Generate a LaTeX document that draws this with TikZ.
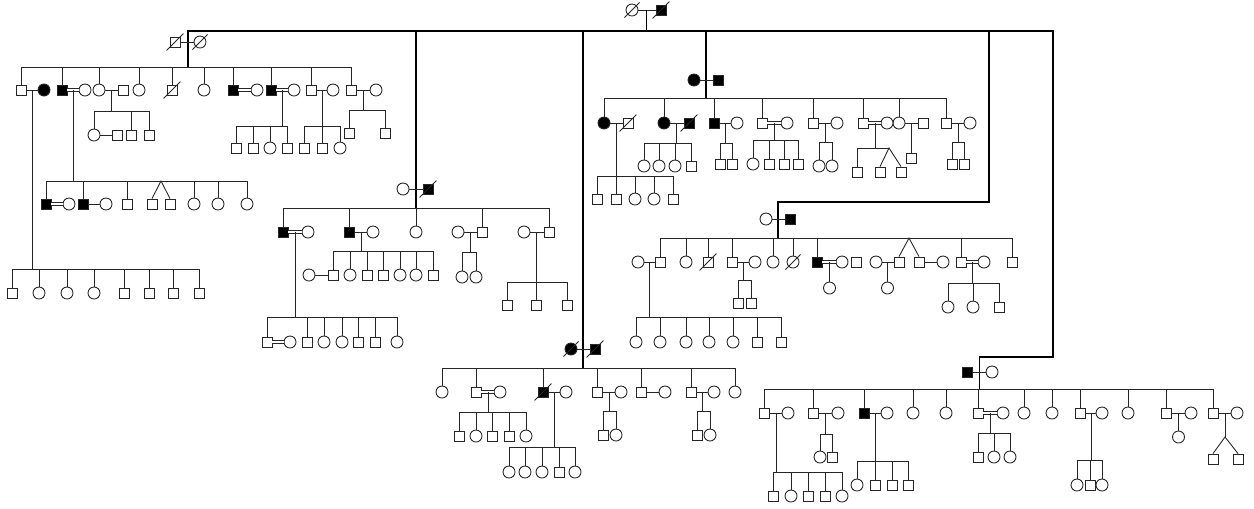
\documentclass[tikz,border=0pt]{standalone}
\usepackage{tikz}
\usetikzlibrary{calc}

\newcommand{\morto}[1]{\draw ([shift={(-3,3)}]#1.south west) -- ([shift={(3,-3)}]#1.north east);}

\begin{document}
\begin{tikzpicture}[x=0.02cm, y=-0.02cm, line width=0.5pt, color=black!85,
    maschio/.style={draw, rectangle, minimum size=0.2cm, inner sep=0pt, fill=white},
    femmina/.style={draw, circle, minimum size=0.24cm, inner sep=0pt, fill=white},
    malato/.style={maschio, fill=black},
    malata/.style={femmina, fill=black},
    consang/.style={double, double distance=0.9pt},
    ramo/.style={line width=0.9pt, black}]

    \useasboundingbox (0,0) rectangle (1254,508);

    % Capostipiti
    \node[femmina] (T1) at (632,10) {};
    \node[malato] (T2) at (661,10) {};
    \draw (T1) -- (T2);
    \morto{T1} \morto{T2}

    % Linee principali
    \coordinate (tT) at ($(T1)!.5!(T2)$);
    \coordinate (sA) at (188,67);
    \coordinate (sB) at (416,208);
    \coordinate (sC) at (706,98);
    \coordinate (sD) at (778,238);
    \coordinate (sE) at (583,368);
    \coordinate (sF) at (979.5,389);
    \coordinate (kD) at (989,202);
    \coordinate (kF) at (1053,357);
    \draw[ramo] (tT) -- (tT |- 0,31);
    \draw[ramo] (sA) |- (kF |- 0,31) -- (kF) -| (sF);
    \draw[ramo] (sB) -- (sB |- 0,31);
    \draw[ramo] (sC) -- (sC |- 0,31);
    \draw[ramo] (sE) -- (sE |- 0,31);
    \draw[ramo] (sD) |- (kD) -- (kD |- 0,31);

    % Famiglia A
    \node[maschio] (A1) at (175,42) {};
    \node[femmina] (A2) at (200,42) {};
    \draw (A1) -- (A2);
    \morto{A1} \morto{A2}
    \foreach \x/\s [count=\i] in {21/maschio,62/malato,99/femmina,139/femmina,172/maschio,204/femmina,233/malato,271/malato,311/maschio,351/maschio}
      { \node[\s] (a\i) at (\x,90) {}; \draw (a\i) -- (a\i |- sA); }
    \foreach \x/\s/\n in {44/malata/1,85/femmina/2,123/maschio/3,257/femmina/7,294/femmina/8,333/femmina/9,376/femmina/10}
      \node[\s] (as\n) at (\x,90) {};
    \morto{a5}
    \draw (a1 |- sA) -- (a10 |- sA);
    \foreach \i in {1,3,9,10} \draw (a\i) -- (as\i);
    \foreach \i in {2,7,8} \draw[consang] (a\i) -- (as\i);

    % figli di a1
    \coordinate (sa1) at (32.5,269);
    \draw (sa1 |- a1) -- (sa1);
    \foreach \x/\s [count=\i] in {12/maschio,39/femmina,67/femmina,94/femmina,124/maschio,149/maschio,173/maschio,199/maschio}
      { \node[\s] (a1f\i) at (\x,293) {}; \draw (a1f\i) -- (a1f\i |- sa1); }
    \draw (a1f1 |- sa1) -- (a1f8 |- sa1);

    % figli di a2
    \coordinate (sa2) at (73.5,181);
    \draw (sa2 |- a2) -- (sa2);
    \foreach \x/\s [count=\i] in {46/malato,83/malato,127/maschio,152/maschio,170/maschio,194/femmina,218/femmina,247/femmina}
      \node[\s] (a2f\i) at (\x,204) {};
    \node[femmina] (a2s1) at (69,204) {};
    \node[femmina] (a2s2) at (106,204) {};
    \draw (a2f1 |- sa2) -- (a2f8 |- sa2);
    \foreach \i in {1,2,3,6,7,8} \draw (a2f\i) -- (a2f\i |- sa2);
    \coordinate (ga2) at (161,181);
    \draw (a2f4.north) -- (ga2) -- (a2f5.north);
    \draw[consang] (a2f1) -- (a2s1);
    \draw (a2f2) -- (a2s2);

    % figli di a3
    \coordinate (sa3) at (111,111);
    \draw (sa3 |- a3) -- (sa3);
    \foreach \x/\s [count=\i] in {94/femmina,131/maschio,149/maschio}
      { \node[\s] (a3f\i) at (\x,135) {}; \draw (a3f\i) -- (a3f\i |- sa3); }
    \draw (a3f1 |- sa3) -- (a3f3 |- sa3);
    \node[maschio] (a3s1) at (117,135) {};
    \draw (a3f1) -- (a3s1);

    % figli di a8, a9, a10
    \coordinate (sa8) at (282.5,126);
    \draw (sa8 |- a8) -- (sa8);
    \foreach \x/\s [count=\i] in {236/maschio,253/maschio,270/femmina,287/maschio}
      { \node[\s] (a8f\i) at (\x,148) {}; \draw (a8f\i) -- (a8f\i |- sa8); }
    \draw (a8f1 |- sa8) -- (a8f4 |- sa8);
    \coordinate (sa9) at (322,126);
    \draw (sa9 |- a9) -- (sa9);
    \foreach \x/\s [count=\i] in {304/maschio,322/maschio,340/femmina}
      { \node[\s] (a9f\i) at (\x,148) {}; \draw (a9f\i) -- (a9f\i |- sa9); }
    \draw (a9f1 |- sa9) -- (a9f3 |- sa9);
    \coordinate (sa10) at (363.5,110);
    \draw (sa10 |- a10) -- (sa10);
    \foreach \x/\s [count=\i] in {349/maschio,385/maschio}
      { \node[\s] (a10f\i) at (\x,133) {}; \draw (a10f\i) -- (a10f\i |- sa10); }
    \draw (a10f1 |- sa10) -- (a10f2 |- sa10);

    % Famiglia B
    \node[femmina] (B1) at (403,189) {};
    \node[malato] (B2) at (428,189) {};
    \draw (B1) -- (B2);
    \morto{B2}
    \foreach \x/\s [count=\i] in {283/malato,349/malato,416/femmina,482/maschio,549/maschio}
      { \node[\s] (b\i) at (\x,232) {}; \draw (b\i) -- (b\i |- sB); }
    \draw (b1 |- sB) -- (b5 |- sB);
    \node[femmina] (bs1) at (308,232) {};
    \node[femmina] (bs2) at (373,232) {};
    \node[femmina] (bs4) at (458,232) {};
    \node[femmina] (bs5) at (524,232) {};
    \draw[consang] (b1) -- (bs1);
    \draw (b2) -- (bs2) (bs4) -- (b4) (bs5) -- (b5);

    % figli di b1
    \coordinate (sb1) at (295.5,317);
    \draw (sb1 |- b1) -- (sb1);
    \foreach \x/\s [count=\i] in {267/maschio,307/maschio,324/femmina,342/femmina,358/maschio,375/maschio,397/femmina}
      { \node[\s] (b1f\i) at (\x,342) {}; \draw (b1f\i) -- (b1f\i |- sb1); }
    \draw (b1f1 |- sb1) -- (b1f7 |- sb1);
    \node[femmina] (b1s1) at (290,342) {};
    \draw[consang] (b1f1) -- (b1s1);

    % figli di b2
    \coordinate (sb2) at (361,251);
    \draw (sb2 |- b2) -- (sb2);
    \foreach \x/\s [count=\i] in {333/maschio,350/femmina,367/maschio,383/maschio,400/femmina,416/femmina,433/maschio}
      { \node[\s] (b2f\i) at (\x,275) {}; \draw (b2f\i) -- (b2f\i |- sb2); }
    \draw (b2f1 |- sb2) -- (b2f7 |- sb2);
    \node[femmina] (b2s1) at (309,275) {};
    \draw (b2s1) -- (b2f1);

    % figli di b4, b5
    \coordinate (sb4) at (470,252);
    \draw (sb4 |- b4) -- (sb4);
    \foreach \x/\s [count=\i] in {462/femmina,476/femmina}
      { \node[\s] (b4f\i) at (\x,277) {}; \draw (b4f\i) -- (b4f\i |- sb4); }
    \draw (b4f1 |- sb4) -- (b4f2 |- sb4);
    \coordinate (sb5) at (536.5,282);
    \draw (sb5 |- b5) -- (sb5);
    \foreach \x/\s [count=\i] in {507/maschio,536/maschio,567/maschio}
      { \node[\s] (b5f\i) at (\x,305) {}; \draw (b5f\i) -- (b5f\i |- sb5); }
    \draw (b5f1 |- sb5) -- (b5f3 |- sb5);

    % Famiglia C
    \node[malata] (C1) at (694,80) {};
    \node[malato] (C2) at (718,80) {};
    \draw (C1) -- (C2);
    \foreach \x/\s [count=\i] in {604/malata,664/malata,714/malato,762/maschio,813/maschio,863/maschio,899/femmina,946/maschio}
      { \node[\s] (c\i) at (\x,123) {}; \draw (c\i) -- (c\i |- sC); }
    \draw (c1 |- sC) -- (c8 |- sC);
    \foreach \x/\s/\n in {628/maschio/1,689/malato/2,737/femmina/3,787/femmina/4,837/femmina/5,887/femmina/6,923/maschio/7,970/femmina/8}
      \node[\s] (cs\n) at (\x,123) {};
    \morto{cs1} \morto{cs2}
    \foreach \i in {1,2,3,5,7,8} \draw (c\i) -- (cs\i);
    \foreach \i in {4,6} \draw[consang] (c\i) -- (cs\i);

    % figli di c1
    \coordinate (sc1) at (616,176);
    \draw (sc1 |- c1) -- (sc1);
    \foreach \x/\s [count=\i] in {597/maschio,616/maschio,635/femmina,654/femmina,673/maschio}
      { \node[\s] (c1f\i) at (\x,199) {}; \draw (c1f\i) -- (c1f\i |- sc1); }
    \draw (c1f1 |- sc1) -- (c1f5 |- sc1);

    % figli di c2, c3
    \coordinate (sc2) at (676.5,143);
    \draw (sc2 |- c2) -- (sc2);
    \foreach \x/\s [count=\i] in {644/femmina,659/femmina,675/femmina,691/maschio}
      { \node[\s] (c2f\i) at (\x,166) {}; \draw (c2f\i) -- (c2f\i |- sc2); }
    \draw (c2f1 |- sc2) -- (c2f4 |- sc2);
    \coordinate (sc3) at (725.5,143);
    \draw (sc3 |- c3) -- (sc3);
    \foreach \x/\s [count=\i] in {720/maschio,732/maschio}
      { \node[\s] (c3f\i) at (\x,164) {}; \draw (c3f\i) -- (c3f\i |- sc3); }
    \draw (c3f1 |- sc3) -- (c3f2 |- sc3);

    % figli di c4, c5
    \coordinate (sc4) at (774.5,140);
    \draw (sc4 |- c4) -- (sc4);
    \foreach \x/\s [count=\i] in {753/femmina,769/maschio,784/maschio,798/maschio}
      { \node[\s] (c4f\i) at (\x,164) {}; \draw (c4f\i) -- (c4f\i |- sc4); }
    \draw (c4f1 |- sc4) -- (c4f4 |- sc4);
    \coordinate (sc5) at (825,142);
    \draw (sc5 |- c5) -- (sc5);
    \foreach \x/\s [count=\i] in {819/femmina,832/femmina}
      { \node[\s] (c5f\i) at (\x,166) {}; \draw (c5f\i) -- (c5f\i |- sc5); }
    \draw (c5f1 |- sc5) -- (c5f2 |- sc5);

    % figli di c6, c7, c8
    \coordinate (sc6) at (875,148);
    \coordinate (gc6) at (889,148);
    \draw (sc6 |- c6) -- (sc6);
    \foreach \x/\s [count=\i] in {857/maschio,880/maschio,901/maschio}
      \node[\s] (c6f\i) at (\x,172) {};
    \draw (c6f1) -- (c6f1 |- sc6) -- (gc6);
    \draw (c6f2.north) -- (gc6) -- (c6f3.north);
    \node[maschio] (c7f1) at (911,158) {};
    \draw (c7f1) -- (c7f1 |- c7);
    \coordinate (sc8) at (958,142);
    \draw (sc8 |- c8) -- (sc8);
    \foreach \x/\s [count=\i] in {952/maschio,964/maschio}
      { \node[\s] (c8f\i) at (\x,164) {}; \draw (c8f\i) -- (c8f\i |- sc8); }
    \draw (c8f1 |- sc8) -- (c8f2 |- sc8);

    % Famiglia D
    \node[femmina] (D1) at (766,219) {};
    \node[malato] (D2) at (790,219) {};
    \draw (D1) -- (D2);
    \foreach \x/\s [count=\i] in {660/maschio,686/femmina,708/maschio,732/maschio,773/femmina,793/femmina,817/malato,899/maschio,919/maschio,961/maschio,1012/maschio}
      \node[\s] (d\i) at (\x,262) {};
    \foreach \i in {1,...,7,10,11} \draw (d\i) -- (d\i |- sD);
    \draw (d1 |- sD) -- (d11 |- sD);
    \coordinate (gd) at (909,238);
    \draw (d8.north) -- (gd) -- (d9.north);
    \morto{d3} \morto{d6}
    \foreach \x/\s/\n in {638/femmina/1,755/femmina/4,842/femmina/7,876/femmina/8,943/femmina/9,984/femmina/10}
      \node[\s] (ds\n) at (\x,262) {};
    \node[maschio] (dx) at (856,262) {};
    \foreach \i in {1,4,8,9} \draw (d\i) -- (ds\i);
    \foreach \i in {7,10} \draw[consang] (d\i) -- (ds\i);

    % figli di d1
    \coordinate (sd1) at (649,317);
    \draw (sd1 |- d1) -- (sd1);
    \foreach \x/\s [count=\i] in {636/femmina,660/femmina,686/femmina,709/femmina,733/femmina,757/maschio,781/maschio}
      { \node[\s] (d1f\i) at (\x,342) {}; \draw (d1f\i) -- (d1f\i |- sd1); }
    \draw (d1f1 |- sd1) -- (d1f7 |- sd1);

    % figli di d4, d7, d8, d10
    \coordinate (sd4) at (743.5,280);
    \draw (sd4 |- d4) -- (sd4);
    \foreach \x/\s [count=\i] in {738/maschio,751/maschio}
      { \node[\s] (d4f\i) at (\x,303) {}; \draw (d4f\i) -- (d4f\i |- sd4); }
    \draw (d4f1 |- sd4) -- (d4f2 |- sd4);
    \node[femmina] (d7f1) at (829.5,288) {};
    \draw (d7f1) -- (d7f1 |- d7);
    \node[femmina] (d8f1) at (887.5,288) {};
    \draw (d8f1) -- (d8f1 |- d8);
    \coordinate (sd10) at (972.5,283);
    \draw (sd10 |- d10) -- (sd10);
    \foreach \x/\s [count=\i] in {948/femmina,973/femmina,999/maschio}
      { \node[\s] (d10f\i) at (\x,307) {}; \draw (d10f\i) -- (d10f\i |- sd10); }
    \draw (d10f1 |- sd10) -- (d10f3 |- sd10);

    % Famiglia E
    \node[malata] (E1) at (571,349) {};
    \node[malato] (E2) at (595,349) {};
    \draw (E1) -- (E2);
    \morto{E1} \morto{E2}
    \foreach \x/\s [count=\i] in {442/femmina,476/maschio,543/malato,597/maschio,641/maschio,691/maschio,735/femmina}
      { \node[\s] (e\i) at (\x,392) {}; \draw (e\i) -- (e\i |- sE); }
    \draw (e1 |- sE) -- (e7 |- sE);
    \morto{e3}
    \foreach \x/\s/\n in {500/femmina/2,566/femmina/3,621/femmina/4,665/femmina/5,714/femmina/6}
      \node[\s] (es\n) at (\x,392) {};
    \draw[consang] (e2) -- (es2);
    \foreach \i in {3,4,5,6} \draw (e\i) -- (es\i);

    % figli di e2, e3
    \coordinate (se2) at (488,412);
    \draw (se2 |- e2) -- (se2);
    \foreach \x/\s [count=\i] in {459/maschio,476/femmina,492/maschio,509/maschio,526/femmina}
      { \node[\s] (e2f\i) at (\x,436) {}; \draw (e2f\i) -- (e2f\i |- se2); }
    \draw (e2f1 |- se2) -- (e2f5 |- se2);
    \coordinate (se3) at (554.5,447);
    \draw (se3 |- e3) -- (se3);
    \foreach \x/\s [count=\i] in {509/femmina,525/femmina,542/femmina,559/maschio,575/femmina}
      { \node[\s] (e3f\i) at (\x,472) {}; \draw (e3f\i) -- (e3f\i |- se3); }
    \draw (e3f1 |- se3) -- (e3f5 |- se3);

    % figli di e4, e6
    \coordinate (se4) at (609,411);
    \draw (se4 |- e4) -- (se4);
    \foreach \x/\s [count=\i] in {603/maschio,616/femmina}
      { \node[\s] (e4f\i) at (\x,435) {}; \draw (e4f\i) -- (e4f\i |- se4); }
    \draw (e4f1 |- se4) -- (e4f2 |- se4);
    \coordinate (se6) at (702.5,411);
    \draw (se6 |- e6) -- (se6);
    \foreach \x/\s [count=\i] in {697/maschio,710/femmina}
      { \node[\s] (e6f\i) at (\x,435) {}; \draw (e6f\i) -- (e6f\i |- se6); }
    \draw (e6f1 |- se6) -- (e6f2 |- se6);

    % Famiglia F
    \node[malato] (F1) at (967,372) {};
    \node[femmina] (F2) at (992,372) {};
    \draw (F1) -- (F2);
    \foreach \x/\s [count=\i] in {764/maschio,813/maschio,864/malato,913/femmina,946/femmina,978/maschio,1024/femmina,1052/femmina,1080/maschio,1128/femmina,1166/maschio,1213/maschio}
      { \node[\s] (f\i) at (\x,413) {}; \draw (f\i) -- (f\i |- sF); }
    \draw (f1 |- sF) -- (f12 |- sF);
    \foreach \x/\s/\n in {788/femmina/1,838/femmina/2,887/femmina/3,1003/femmina/6,1102/femmina/9,1191/femmina/11,1237/femmina/12}
      \node[\s] (fs\n) at (\x,413) {};
    \foreach \i in {1,2,3,9,11,12} \draw (f\i) -- (fs\i);
    \draw[consang] (f6) -- (fs6);

    % figli di f1, f2, f3
    \coordinate (sf1) at (776,472);
    \draw (sf1 |- f1) -- (sf1);
    \foreach \x/\s [count=\i] in {773/maschio,791/femmina,808/maschio,825/maschio,842/femmina}
      { \node[\s] (f1f\i) at (\x,496) {}; \draw (f1f\i) -- (f1f\i |- sf1); }
    \draw (f1f1 |- sf1) -- (f1f5 |- sf1);
    \coordinate (sf2) at (825.5,434);
    \draw (sf2 |- f2) -- (sf2);
    \foreach \x/\s [count=\i] in {820/femmina,832/maschio}
      { \node[\s] (f2f\i) at (\x,457) {}; \draw (f2f\i) -- (f2f\i |- sf2); }
    \draw (f2f1 |- sf2) -- (f2f2 |- sf2);
    \coordinate (sf3) at (875.5,461);
    \draw (sf3 |- f3) -- (sf3);
    \foreach \x/\s [count=\i] in {857/femmina,875/maschio,892/maschio,908/maschio}
      { \node[\s] (f3f\i) at (\x,485) {}; \draw (f3f\i) -- (f3f\i |- sf3); }
    \draw (f3f1 |- sf3) -- (f3f4 |- sf3);

    % figli di f6, f9, f11, f12
    \coordinate (sf6) at (990.5,433);
    \draw (sf6 |- f6) -- (sf6);
    \foreach \x/\s [count=\i] in {978/maschio,994/femmina,1010/femmina}
      { \node[\s] (f6f\i) at (\x,457) {}; \draw (f6f\i) -- (f6f\i |- sf6); }
    \draw (f6f1 |- sf6) -- (f6f3 |- sf6);
    \coordinate (sf9) at (1091,460);
    \draw (sf9 |- f9) -- (sf9);
    \foreach \x/\s [count=\i] in {1077/femmina,1090/maschio,1102/femmina}
      { \node[\s] (f9f\i) at (\x,485) {}; \draw (f9f\i) -- (f9f\i |- sf9); }
    \draw (f9f1 |- sf9) -- (f9f3 |- sf9);
    \node[femmina] (f11f1) at (1178.5,437) {};
    \draw (f11f1) -- (f11f1 |- f11);
    \coordinate (gf12) at (1225,437);
    \draw (gf12 |- f12) -- (gf12);
    \node[maschio] (f12f1) at (1213,459) {};
    \node[maschio] (f12f2) at (1238,459) {};
    \draw (f12f1.north) -- (gf12) -- (f12f2.north);

\end{tikzpicture}
\end{document}
